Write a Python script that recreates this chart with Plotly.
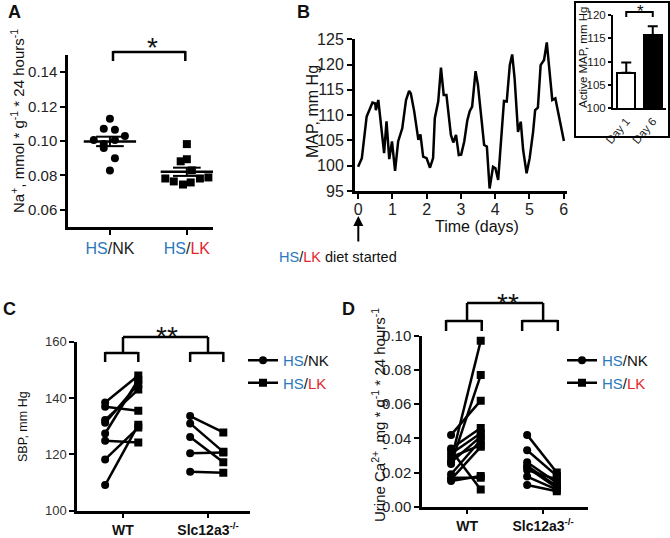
import plotly.graph_objects as go
import numpy as np

W, H = 670, 538
FONT = "Liberation Sans, Arial, Helvetica, sans-serif"
BLUE = "#2a78bd"
RED = "#e3262e"

# ---------------- Panel A data ----------------
a_groups = ["HS/NK", "HS/LK"]
a_nk = [0.1129, 0.1071, 0.1065, 0.1029, 0.1006, 0.1006, 0.0982, 0.0959, 0.0900, 0.0829]
a_nk_jitter = [0, -0.08, 0.065, 0.195, -0.21, 0.065, -0.08, -0.08, 0.065, 0]
a_lk = [0.0982, 0.0882, 0.0894, 0.0829, 0.0782, 0.0788, 0.0782, 0.0765, 0.0759, 0.0747]
a_lk_jitter = [0, -0.08, 0, 0.065, -0.28, 0.28, 0.17, -0.17, 0.05, -0.05]
a_yticks = [0.06, 0.08, 0.10, 0.12, 0.14]

# ---------------- Panel B data ----------------
b_days = [0.0, 0.11, 0.25, 0.32, 0.42, 0.50, 0.52, 0.59, 0.67, 0.76, 0.83, 0.91, 0.99,
          1.08, 1.17, 1.29, 1.40, 1.49, 1.54, 1.64, 1.76, 1.82, 1.90, 2.00, 2.10, 2.19,
          2.24, 2.34, 2.42, 2.50, 2.58, 2.71, 2.78, 2.86, 2.94, 3.01, 3.10, 3.19, 3.26,
          3.33, 3.43, 3.50, 3.60, 3.68, 3.76, 3.84, 3.94, 4.01, 4.09, 4.18, 4.26, 4.34,
          4.43, 4.50, 4.57, 4.67, 4.75, 4.82, 4.92, 5.01, 5.11, 5.17, 5.25, 5.33, 5.43,
          5.51, 5.59, 5.67, 5.76, 5.88, 5.95, 6.01]
b_map = [99.8, 101.5, 109.7, 111.0, 112.5, 112.3, 111.0, 113.0, 108.1, 102.5, 108.8, 101.3, 104.8,
         99.0, 104.8, 107.4, 113.0, 114.8, 114.3, 110.7, 105.1, 106.2, 101.8, 101.5, 99.6, 101.5,
         109.4, 112.7, 119.4, 114.0, 114.0, 106.1, 104.6, 106.1, 102.1, 102.2, 104.8, 109.0, 110.8,
         111.7, 118.7, 116.0, 109.4, 104.1, 103.8, 95.5, 99.8, 99.5, 97.2, 105.4, 112.8, 112.7,
         119.9, 122.0, 117.3, 106.7, 108.7, 103.1, 98.5, 101.5, 106.7, 111.0, 111.5, 119.9, 120.9,
         124.4, 119.3, 113.0, 113.3, 109.4, 107.4, 104.9]
inset_days = ["Day 1", "Day 6"]
inset_map = [107.6, 115.6]
inset_err = [2.2, 2.0]
inset_colors = ["white", "black"]

# ---------------- Panel C data ----------------
c_groups = ["WT", "Slc12a3"]
c_wt_nk = [138.4, 136.9, 132.2, 131.2, 127.4, 124.8, 118.2, 109.1]
c_wt_lk = [148.0, 135.5, 143.0, 145.0, 146.5, 124.2, 129.5, 130.5]
c_ko_nk = [133.6, 131.0, 126.2, 120.4, 113.8]
c_ko_lk = [127.8, 120.9, 117.2, 120.7, 113.5]

# ---------------- Panel D data ----------------
d_wt_nk = [0.042, 0.034, 0.033, 0.031, 0.029, 0.027, 0.026, 0.025, 0.019, 0.017, 0.016, 0.015]
d_wt_lk = [0.062, 0.046, 0.010, 0.043, 0.036, 0.097, 0.041, 0.077, 0.039, 0.017, 0.035, 0.018]
d_ko_nk = [0.042, 0.033, 0.026, 0.024, 0.023, 0.0215, 0.0176, 0.0127]
d_ko_lk = [0.020, 0.018, 0.014, 0.012, 0.011, 0.016, 0.010, 0.009]

OFF_NK, OFF_LK = -0.21, 0.18


def px_x(px):
    return px / W


def px_y(py):
    return 1 - py / H


def dom_x(l, r):
    return [l / W, r / W]


def dom_y(top, bottom):
    return [1 - bottom / H, 1 - top / H]


def hs(rest, color=None):
    s = f'<span style="color:{BLUE}">HS</span>/'
    if color:
        s += f'<span style="color:{color}">{rest}</span>'
    else:
        s += rest
    return s


fig = go.Figure()
BLK = "black"

# ---------------- Panel A ----------------
for i, (vals, jit, sym) in enumerate([(a_nk, a_nk_jitter, "circle"), (a_lk, a_lk_jitter, "square")]):
    c = i + 1
    fig.add_trace(go.Scatter(x=[c + j for j in jit], y=vals, mode="markers",
                             marker=dict(symbol=sym, size=8, color=BLK),
                             xaxis="x", yaxis="y", showlegend=False))
    m = float(np.mean(vals))
    s = float(np.std(vals, ddof=1) / np.sqrt(len(vals)))
    fig.add_trace(go.Scatter(x=[c - 0.34, c + 0.34], y=[m, m], mode="lines",
                             line=dict(color=BLK, width=2.5), xaxis="x", yaxis="y", showlegend=False))
    for yy in (m - s, m + s):
        fig.add_trace(go.Scatter(x=[c - 0.18, c + 0.18], y=[yy, yy], mode="lines",
                                 line=dict(color=BLK, width=2), xaxis="x", yaxis="y", showlegend=False))
    fig.add_trace(go.Scatter(x=[c, c], y=[m - s, m + s], mode="lines",
                             line=dict(color=BLK, width=2), xaxis="x", yaxis="y", showlegend=False))

# ---------------- Panel B ----------------
fig.add_trace(go.Scatter(x=b_days, y=b_map, mode="lines", line=dict(color=BLK, width=2.5),
                         xaxis="x2", yaxis="y2", showlegend=False))
fig.add_trace(go.Bar(x=inset_days, y=inset_map, width=0.68,
                     marker=dict(color=inset_colors, line=dict(color=BLK, width=2)),
                     error_y=dict(type="data", symmetric=False, array=inset_err,
                                  arrayminus=[0, 0], color=BLK, thickness=2, width=5),
                     xaxis="x3", yaxis="y3", showlegend=False))


# ---------------- Panels C, D ----------------
def pairs(nk, lk, c, xa, ya):
    for a, b in zip(nk, lk):
        fig.add_trace(go.Scatter(x=[c + OFF_NK, c + OFF_LK], y=[a, b], mode="lines+markers",
                                 marker=dict(symbol=["circle", "square"], size=8, color=BLK),
                                 line=dict(color=BLK, width=2.5),
                                 xaxis=xa, yaxis=ya, showlegend=False))


pairs(c_wt_nk, c_wt_lk, 1, "x4", "y4")
pairs(c_ko_nk, c_ko_lk, 2, "x4", "y4")
pairs(d_wt_nk, d_wt_lk, 1, "x5", "y5")
pairs(d_ko_nk, d_ko_lk, 2, "x5", "y5")

for lg, xa, ya in [("legend", "x4", "y4"), ("legend2", "x5", "y5")]:
    for name, sym in [(hs("NK"), "circle"), (hs("LK", RED), "square")]:
        fig.add_trace(go.Scatter(x=[None], y=[None], mode="lines+markers", name=name,
                                 marker=dict(symbol=sym, size=8, color=BLK),
                                 line=dict(color=BLK, width=2.5), legend=lg,
                                 xaxis=xa, yaxis=ya, showlegend=True))

axis_common = dict(showline=True, linecolor=BLK, linewidth=2.5, ticks="outside", ticklen=5,
                   tickwidth=2, tickcolor=BLK, showgrid=False, zeroline=False, automargin=False,
                   tickfont=dict(family=FONT, size=15, color="#222"))


def ax(**kw):
    d = dict(axis_common)
    d.update(kw)
    return d


layout = dict(
    width=W, height=H, margin=dict(l=0, r=0, t=0, b=0, autoexpand=False),
    paper_bgcolor="white", plot_bgcolor="rgba(0,0,0,0)",
    font=dict(family=FONT, color="#222"),
    xaxis=ax(domain=dom_x(68, 213), range=[0.455, 2.34], tickvals=[1, 2],
             ticktext=[hs("NK"), hs("LK", RED)], anchor="y", tickfont=dict(family=FONT, size=16)),
    yaxis=ax(domain=dom_y(55, 227), range=[0.05, 0.15], tickvals=a_yticks, tickformat=".2f", anchor="x"),
    xaxis2=ax(domain=dom_x(355, 567), range=[-0.09, 6.1], tickvals=list(range(7)), anchor="y2",
              linewidth=3, ticklabelstandoff=-3, tickfont=dict(family=FONT, size=16, color="#222")),
    yaxis2=ax(domain=dom_y(39.3, 191), range=[95, 125], dtick=5, anchor="x2", linewidth=3,
              tickfont=dict(family=FONT, size=16, color="#222")),
    xaxis3=ax(domain=dom_x(613, 666), range=[-0.5, 1.5], anchor="y3", tickangle=-50, linewidth=2,
              ticklen=0, tickfont=dict(family=FONT, size=11.5, color="#222")),
    yaxis3=ax(domain=dom_y(15, 108), range=[100, 120], dtick=5, anchor="x3", linewidth=2, ticklen=3,
              tickfont=dict(family=FONT, size=11.5, color="#222")),
    xaxis4=ax(domain=dom_x(77, 250), range=[0.459, 2.494], tickvals=[1, 2],
              ticktext=["<b>WT</b>", "<b>Slc12a3<sup>-/-</sup></b>"], anchor="y4",
              tickfont=dict(family=FONT, size=14, color="#111")),
    yaxis4=ax(domain=dom_y(341.7, 510.7), range=[100, 160], dtick=20, anchor="x4",
              tickfont=dict(family=FONT, size=13, color="#333")),
    xaxis5=ax(domain=dom_x(422, 588), range=[0.408, 2.59], tickvals=[1, 2],
              ticktext=["<b>WT</b>", "<b>Slc12a3<sup>-/-</sup></b>"], anchor="y5",
              tickfont=dict(family=FONT, size=14, color="#111")),
    yaxis5=ax(domain=dom_y(335.7, 506.7), range=[0, 0.10], dtick=0.02, tickformat=".2f", anchor="x5"),
    legend=dict(x=px_x(243), y=px_y(344), xanchor="left", yanchor="top", bgcolor="rgba(0,0,0,0)",
                font=dict(family=FONT, size=15, color="#111"), itemwidth=30, tracegroupgap=0),
    legend2=dict(x=px_x(562), y=px_y(344), xanchor="left", yanchor="top", bgcolor="rgba(0,0,0,0)",
                 font=dict(family=FONT, size=15, color="#111"), itemwidth=30, tracegroupgap=0),
    bargap=0,
)
fig.update_layout(**layout)

shapes = []
anns = []


def line_px(x0, y0, x1, y1, w=2.5):
    shapes.append(dict(type="line", xref="paper", yref="paper", x0=px_x(x0), y0=px_y(y0),
                       x1=px_x(x1), y1=px_y(y1), line=dict(color=BLK, width=w)))


def text_px(x, y, t, size, bold=False, angle=0, xanchor="center", yanchor="middle", color="#111"):
    if bold:
        t = f"<b>{t}</b>"
    anns.append(dict(x=px_x(x), y=px_y(y), xref="paper", yref="paper", text=t, showarrow=False,
                     textangle=angle, xanchor=xanchor, yanchor=yanchor,
                     font=dict(family=FONT, size=size, color=color)))


def mapper(l, r, r0, r1):
    return lambda v: l + (v - r0) / (r1 - r0) * (r - l)


# panel letters
text_px(14, 12, "A", 18, bold=True)
text_px(303, 12, "B", 18, bold=True)
text_px(9, 309, "C", 18, bold=True)
text_px(348, 309, "D", 18, bold=True)

# Panel A annotations
mA = mapper(68, 213, 0.455, 2.34)
line_px(mA(1.04), 52, mA(1.98), 52)
line_px(mA(1.04), 51, mA(1.04), 61)
line_px(mA(1.98), 51, mA(1.98), 61)
text_px(152, 47, "*", 28)
text_px(17, 121, "Na<sup>+</sup>, mmol * g<sup>-1</sup> * 24 hours<sup>-1</sup>", 15, angle=-90)

# Panel B annotations
text_px(312, 112, "MAP, mm Hg", 16, angle=-90)
text_px(477, 226, "Time (days)", 16)
anns.append(dict(x=px_x(358.3), y=px_y(216), xref="paper", yref="paper", ax=0, ay=27,
                 showarrow=True, arrowhead=2, arrowsize=1, arrowwidth=2, arrowcolor=BLK, text=""))
text_px(338, 257, hs("LK", RED) + " diet started", 14.5)
# inset
shapes.append(dict(type="rect", xref="paper", yref="paper", x0=px_x(575), x1=px_x(669),
                   y0=px_y(137), y1=px_y(2), line=dict(color=BLK, width=2)))
mI = mapper(613, 666, -0.5, 1.5)
line_px(mI(0), 12, mI(1), 12, 2)
line_px(mI(0), 11, mI(0), 17, 2)
line_px(mI(1), 11, mI(1), 17, 2)
text_px(640, 12, "*", 17)
text_px(583, 58, "Active MAP, mm Hg", 11.5, angle=-90)

# Panel C annotations
mC = mapper(77, 250, 0.459, 2.494)
for c in (1, 2):
    line_px(mC(c + OFF_NK), 353, mC(c + OFF_LK), 353)
    line_px(mC(c + OFF_NK), 352, mC(c + OFF_NK), 362)
    line_px(mC(c + OFF_LK), 352, mC(c + OFF_LK), 362)
    line_px(mC(c), 337, mC(c), 353)
line_px(mC(1), 337, mC(2), 337)
text_px(167, 336, "**", 28)
text_px(23, 427, "SBP, mm Hg", 12.5, angle=-90)

# Panel D annotations
mD = mapper(422, 588, 0.408, 2.59)
for c in (1, 2):
    line_px(mD(c + OFF_NK) - 5, 321, mD(c + OFF_LK) + 1, 321)
    line_px(mD(c + OFF_NK) - 5, 320, mD(c + OFF_NK) - 5, 331)
    line_px(mD(c + OFF_LK) + 1, 320, mD(c + OFF_LK) + 1, 331)
    line_px(mD(c), 303, mD(c), 321)
line_px(mD(1), 303, mD(2), 303)
text_px(508, 303, "**", 28)
text_px(378, 415, "Urine Ca<sup>2+</sup>, mg * g<sup>-1</sup> * 24 hours<sup>-1</sup>", 15, angle=-90)

fig.update_layout(shapes=shapes, annotations=anns)
fig.write_html("out.html", config={"displayModeBar": False},
               post_script="document.body.style.margin='0px';document.body.style.overflow='hidden';")
